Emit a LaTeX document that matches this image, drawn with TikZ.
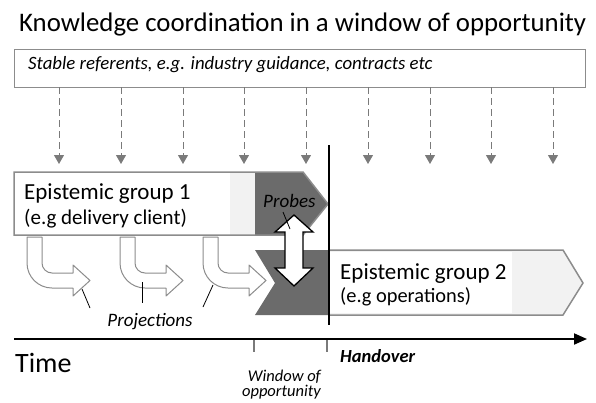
\documentclass[tikz,border=0pt]{standalone}
\usepackage{fontspec}
\setmainfont{Carlito}
\usetikzlibrary{arrows.meta}
\definecolor{dk}{HTML}{6B6B6B}
\definecolor{lt}{HTML}{F2F2F2}
\definecolor{ol}{HTML}{8C8C8C}
\definecolor{dsh}{HTML}{7A7A7A}
\tikzset{
  darr/.style={draw=dsh, line width=1pt, dash pattern=on 7pt off 4pt, -{Triangle[length=9pt,width=10pt]}},
  projarrow/.style={draw=ol, fill=white, line width=1pt, line join=round},
  leader/.style={draw=black, line width=0.8pt},
  tick/.style={draw=dsh, line width=2pt},
  fsize/.style={font=\fontsize{#1}{#1}\selectfont},
  isize/.style={font=\itshape\fontsize{#1}{#1}\selectfont},
}
\begin{document}
\begin{tikzpicture}[x=1pt,y=-1pt]
\useasboundingbox (0,0) rectangle (596,402);
% title
\node[anchor=base west, fsize=26.8, inner sep=0] (title) at (19,31) {Knowledge coordination in a window of opportunity};
% referents box
\node[draw=ol, line width=1pt, minimum width=571pt, minimum height=38pt, anchor=north west, inner sep=0] (ref) at (14,49) {};
\node[anchor=base west, isize=18.8, inner sep=0] (reftext) at (28,69) {Stable referents, e.g. industry guidance, contracts etc};
% dashed arrows
\foreach \x in {59,121,183,244,306,368,430,491,553}{
  \coordinate (dt\x) at (\x,87);
  \coordinate (db\x) at (\x,164);
  \draw[darr] (dt\x) -- (db\x);
}
% group 1
\fill[lt] (14,172) -- (303,172) -- (328,204) -- (303,235) -- (14,235) -- cycle;
\fill[white] (14,172) rectangle (230,235);
\fill[dk] (255,172) -- (303,172) -- (328,204) -- (303,235) -- (255,235) -- cycle;
\draw[ol, line width=1.5pt, line join=miter] (14,172) -- (303,172) -- (328,204) -- (303,235) -- (14,235) -- cycle;
\node[anchor=base west, fsize=23, inner sep=0] (g1) at (24,199) {Epistemic group 1};
\node[anchor=base west, fsize=21, inner sep=0] (g1b) at (24,224) {(e.g delivery client)};
% group 2
\fill[lt] (329,250) -- (563,250) -- (583,283) -- (563,315) -- (329,315) -- cycle;
\fill[white] (330,252) rectangle (512,313);
\draw[ol, line width=1.5pt] (329,250) -- (563,250) -- (583,283) -- (563,315) -- (329,315);
\fill[dk] (255,250) -- (329,250) -- (329,315) -- (255,315) -- (275,283) -- cycle;
\node[anchor=base west, fsize=23, inner sep=0] (g2) at (340,279) {Epistemic group 2};
\node[anchor=base west, fsize=20.4, inner sep=0] (g2b) at (340,302) {(e.g operations)};
% projection arrows
\foreach \a in {27,120,203}{
  \draw[projarrow] (\a,237) -- (\a,263) arc[start angle=180, end angle=90, radius=25]
    -- (\a+46,288) -- (\a+46,296) -- (\a+63,280.5) -- (\a+46,265) -- (\a+46,273)
    -- (\a+25,273) arc[start angle=90, end angle=180, radius=10] -- (\a+15,237) -- cycle;
}
% projections label and leaders
\node[isize=19, inner sep=0] (proj) at (150,322) {Projections};
\coordinate (p1a) at (82,289); \coordinate (p1b) at (90,308);
\coordinate (p2a) at (142,282); \coordinate (p2b) at (142,303);
\coordinate (p3a) at (213,285); \coordinate (p3b) at (203,307);
\draw[leader] (p1a) -- (p1b);
\draw[leader] (p2a) -- (p2b);
\draw[leader] (p3a) -- (p3b);
% probes
\node[anchor=base west, isize=19, inner sep=0] (probes) at (263,207) {Probes};
\draw[fill=white, draw=black, line width=1.3pt, line join=miter]
  (294,215) -- (313,232) -- (303,232) -- (303,268) -- (313,268) -- (294,286)
  -- (275,268) -- (285,268) -- (285,232) -- (275,232) -- cycle;
\coordinate (pra) at (283,212); \coordinate (prb) at (290,229);
\draw[leader] (pra) -- (prb);
% handover line
\coordinate (hv1) at (329,145); \coordinate (hv2) at (329,325);
\draw[line width=1.6pt] (hv1) -- (hv2);
% time axis
\coordinate (ta) at (14,339); \coordinate (tb) at (587,339);
\draw[line width=2pt, -{Triangle[length=13pt,width=11pt]}] (ta) -- (tb);
\coordinate (k1a) at (254,340); \coordinate (k1b) at (254,352);
\coordinate (k2a) at (327,340); \coordinate (k2b) at (327,352);
\draw[tick] (k1a) -- (k1b);
\draw[tick] (k2a) -- (k2b);
\node[anchor=base west, fsize=28, inner sep=0] (time) at (15,372) {Time};
\node[anchor=base west, font=\bfseries\itshape\fontsize{18.5}{18.5}\selectfont, inner sep=0] (hand) at (340,362) {Handover};
\node[anchor=north east, align=right, inner sep=0, font=\itshape\fontsize{16.5}{15}\selectfont] (win) at (321,370) {Window of\\opportunity};
\end{tikzpicture}
\end{document}
